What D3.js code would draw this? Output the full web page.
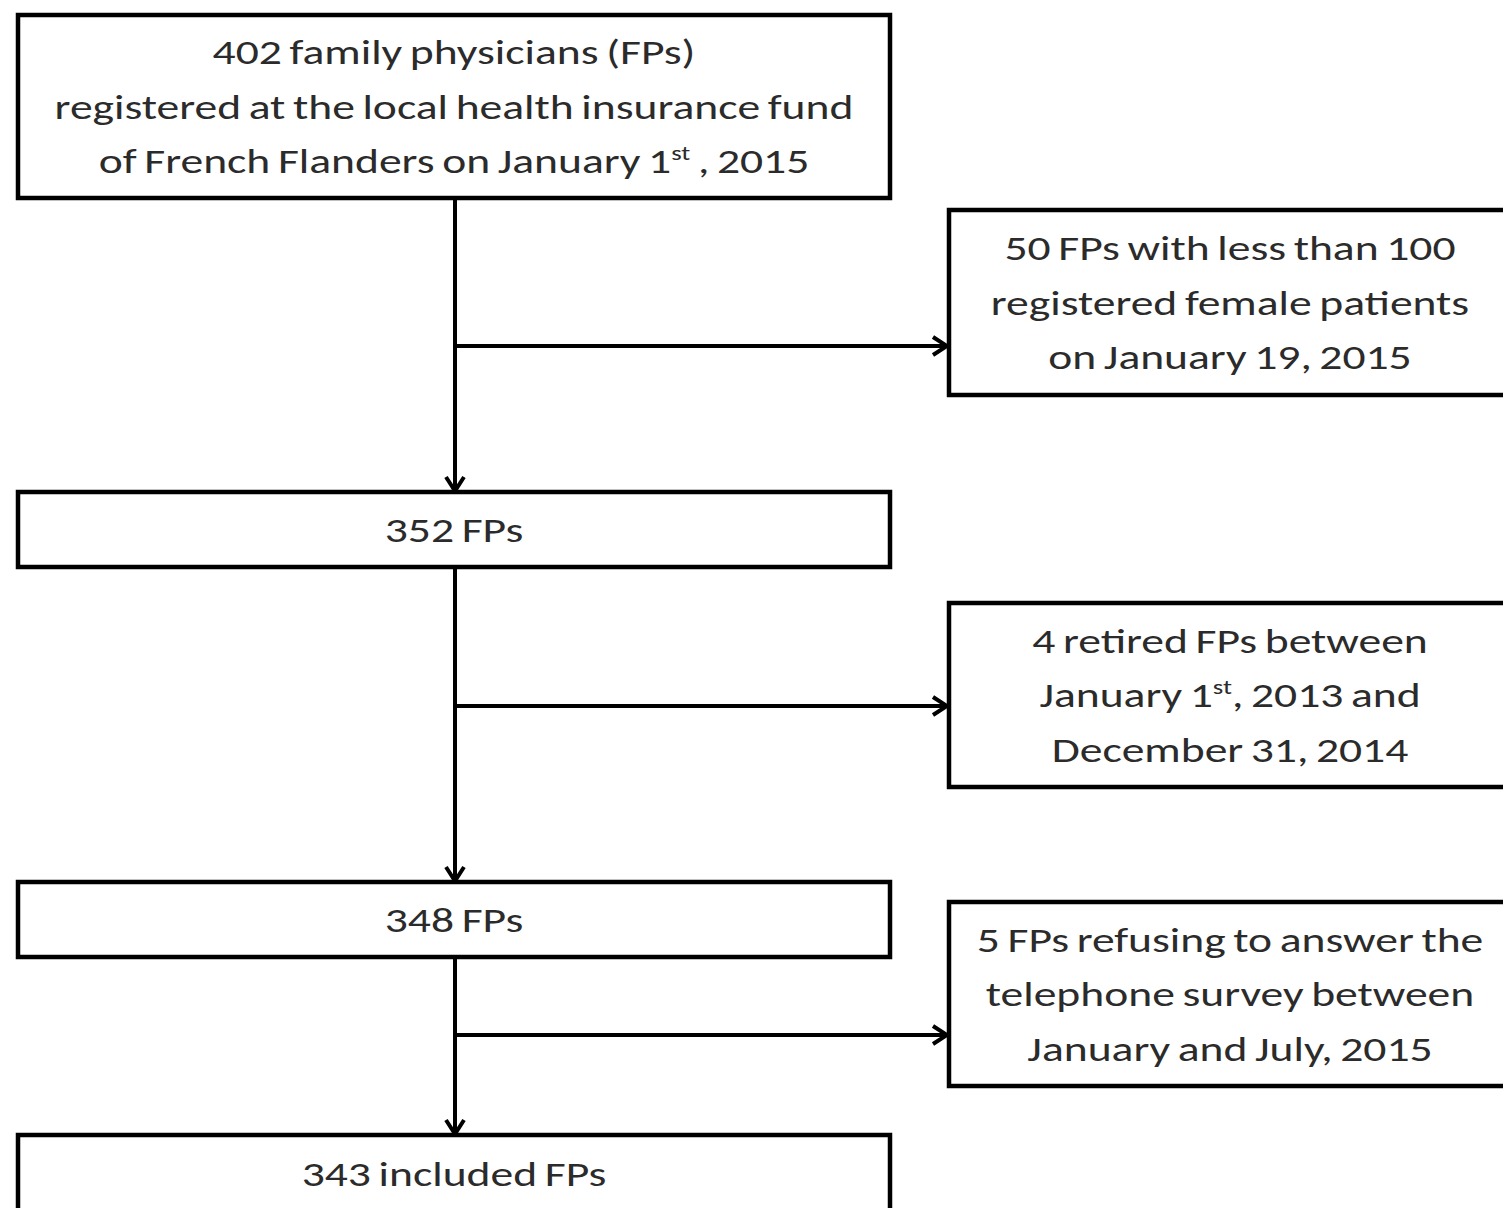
<!DOCTYPE html>
<html>
<head>
<meta charset="utf-8">
<script src="https://cdn.jsdelivr.net/npm/d3@7"></script>
<style>
  body { margin: 0; background: #fff; }
  text { font-family: Carlito, Lato, "Open Sans", sans-serif; fill: #2b2b2b; word-spacing: -2px; }
</style>
</head>
<body>
<svg id="chart"></svg>
<script>
// flow steps (main column), text lines; "^st" marks a superscript
const mainSteps = [
  ["402 family physicians (FPs)", "registered at the local health insurance fund", "of French Flanders on January 1^st , 2015"],
  ["352 FPs"],
  ["348 FPs"],
  ["343 included FPs"]
];
const exclusions = [
  ["50 FPs with less than 100", "registered female patients", "on January 19, 2015"],
  ["4 retired FPs between", "January 1^st, 2013 and", "December 31, 2014"],
  ["5 FPs refusing to answer the", "telephone survey between", "January and July, 2015"]
];

// layout (pixels)
const mainBox = [[15, 198], [492, 567], [882, 957], [1135, 1230]];
const sideBox = [[210, 395], [603, 787], [902, 1086]];
const branchY = [346, 706, 1035];
const mainX = [18, 890], sideX = [949, 1530], stemX = 455;
const lineGap = 54.5;
const stretch = 1.34;   // source lettering is wide

const svg = d3.select("#chart").attr("width", 1503).attr("height", 1208);

svg.append("defs").append("marker")
  .attr("id", "arrow")
  .attr("viewBox", "0 0 20 24")
  .attr("refX", 18).attr("refY", 12)
  .attr("markerWidth", 20).attr("markerHeight", 24)
  .attr("markerUnits", "userSpaceOnUse")
  .attr("orient", "auto")
  .append("path")
    .attr("d", "M4,3 L18,12 L4,21")
    .attr("fill", "none").attr("stroke", "#000").attr("stroke-width", 4);

function addLines(g, lines, cx, cy) {
  const n = lines.length;
  lines.forEach((ln, i) => {
    const y = cy + (i - (n - 1) / 2) * lineGap + 12;
    const t = g.append("text")
      .attr("transform", `translate(${cx},${y}) scale(${stretch},1)`)
      .attr("text-anchor", "middle")
      .style("font-size", "34px");
    const parts = ln.split("^st");
    t.append("tspan").text(parts[0]);
    if (parts.length > 1) {
      t.append("tspan").attr("dy", -13).style("font-size", "20px").text("st");
      t.append("tspan").attr("dy", 13).text(parts[1]);
    }
  });
}

function box(x, y) {
  const g = svg.append("g");
  g.append("rect")
    .attr("x", x[0]).attr("y", y[0])
    .attr("width", x[1] - x[0]).attr("height", y[1] - y[0])
    .attr("fill", "#fff").attr("stroke", "#000").attr("stroke-width", 4.5);
  return g;
}

// connectors
mainBox.slice(0, -1).forEach((b, i) => {
  svg.append("line")
    .attr("x1", stemX).attr("y1", b[1] + 2)
    .attr("x2", stemX).attr("y2", mainBox[i + 1][0] - 1)
    .attr("stroke", "#000").attr("stroke-width", 4)
    .attr("marker-end", "url(#arrow)");
  svg.append("line")
    .attr("x1", stemX).attr("y1", branchY[i])
    .attr("x2", sideX[0] - 2).attr("y2", branchY[i])
    .attr("stroke", "#000").attr("stroke-width", 4)
    .attr("marker-end", "url(#arrow)");
});

mainSteps.forEach((lines, i) => {
  const g = box(mainX, mainBox[i]);
  const cy = i === mainSteps.length - 1 ? 1174 : (mainBox[i][0] + mainBox[i][1]) / 2;
  addLines(g, lines, (mainX[0] + mainX[1]) / 2, cy);
});
exclusions.forEach((lines, i) => {
  const g = box(sideX, sideBox[i]);
  addLines(g, lines, 1230, (sideBox[i][0] + sideBox[i][1]) / 2);
});
</script>
</body>
</html>
